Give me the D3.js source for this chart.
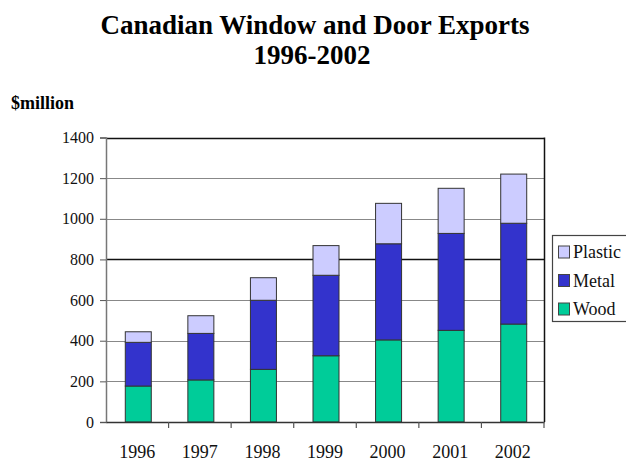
<!DOCTYPE html>
<html><head><meta charset="utf-8">
<script src="https://cdn.jsdelivr.net/npm/d3@7"></script>
<style>body{margin:0;background:#fff;}svg{display:block;}</style>
</head><body>
<script>
const years = ["1996","1997","1998","1999","2000","2001","2002"];
const wood = [177, 207, 259, 326, 404, 451, 482];
const metal = [215, 229, 340, 396, 473, 477, 496];
const plastic = [52, 87, 111, 146, 199, 222, 242];
const seriesNames = ["Wood","Metal","Plastic"];
const seriesColors = {"Wood":"#00CC99","Metal":"#3333CC","Plastic":"#CCCCFF"};
const yTicks = [0,200,400,600,800,1000,1200,1400];

const W = 626, H = 464;
const svg = d3.select("body").append("svg").attr("width", W).attr("height", H);
const serif = "'Liberation Serif','Times New Roman',serif";

const m = {left:106, right:544, top:137.5, bottom:422};
const x = d3.scaleBand().domain(years).range([m.left, m.right]).paddingInner(0).paddingOuter(0);
const y = d3.scaleLinear().domain([0,1400]).range([m.bottom, m.top]);

const table = years.map((yr,i)=>({year:yr, Wood:wood[i], Metal:metal[i], Plastic:plastic[i]}));
const stacked = d3.stack().keys(seriesNames)(table);

// title
svg.append("text").attr("x", 315).attr("y", 34).attr("text-anchor","middle")
  .attr("font-family", serif).attr("font-weight","bold").attr("font-size", 27)
  .text("Canadian Window and Door Exports");
svg.append("text").attr("x", 312).attr("y", 64).attr("text-anchor","middle")
  .attr("font-family", serif).attr("font-weight","bold").attr("font-size", 27)
  .text("1996-2002");
svg.append("text").attr("x", 11).attr("y", 109)
  .attr("font-family", serif).attr("font-weight","bold").attr("font-size", 18)
  .text("$million");

// gridlines
svg.append("g").selectAll("line").data(yTicks.filter(d=>d>0)).join("line")
  .attr("x1", m.left).attr("x2", m.right)
  .attr("y1", d=>Math.round(y(d))+0.5).attr("y2", d=>Math.round(y(d))+0.5)
  .attr("stroke", d=> (d===800||d===1400) ? "#111" : "#888")
  .attr("stroke-width", d=> (d===800||d===1400) ? 1.5 : 1.2);

// right border
svg.append("line").attr("x1", m.right+0.5).attr("x2", m.right+0.5)
  .attr("y1", y(1400)).attr("y2", m.bottom).attr("stroke","#111").attr("stroke-width",1.5);

// bars
const barW = 26;
svg.append("g").selectAll("g").data(stacked).join("g")
  .attr("fill", d=>seriesColors[d.key])
  .selectAll("rect").data(d=>d).join("rect")
  .attr("x", d=> x(d.data.year) + x.bandwidth()/2 - barW/2 + 1)
  .attr("width", barW)
  .attr("y", d=> y(d[1]))
  .attr("height", d=> y(d[0]) - y(d[1]))
  .attr("stroke", "#333").attr("stroke-width", 1);

// y axis
const yAxis = d3.axisLeft(y).tickValues(yTicks).tickSize(6).tickPadding(6).tickFormat(d3.format("d"));
const gy = svg.append("g").attr("transform", `translate(${m.left},0)`).call(yAxis);
gy.select(".domain").attr("stroke","#777").attr("stroke-width",1.5);
gy.selectAll(".tick line").attr("stroke","#555");
gy.selectAll(".tick text").attr("font-family", serif).attr("font-size", 16).attr("fill","#111");

// x axis
const xAxis = d3.axisBottom(x).tickSize(0).tickPadding(23);
const gx = svg.append("g").attr("transform", `translate(0,${m.bottom})`).call(xAxis);
gx.select(".domain").attr("stroke","#333").attr("stroke-width",1.5);
gx.selectAll(".tick text").attr("font-family", serif).attr("font-size", 18).attr("fill","#111");
// category separator ticks
svg.append("g").selectAll("line").data(years.slice(1).concat(["end"])).join("line")
  .attr("x1", d=> d==="end" ? m.right : x(d)).attr("x2", d=> d==="end" ? m.right : x(d))
  .attr("y1", m.bottom).attr("y2", m.bottom+6).attr("stroke","#555").attr("stroke-width",1.2);

// legend
const lg = svg.append("g");
lg.append("rect").attr("x", 552.5).attr("y", 235.5).attr("width", 90).attr("height", 86)
  .attr("fill","#fff").attr("stroke","#444").attr("stroke-width",1.2);
const legendItems = ["Plastic","Metal","Wood"];
const ly = d3.scalePoint().domain(legendItems).range([252, 309]);
legendItems.forEach(k=>{
  lg.append("rect").attr("x", 558.5).attr("y", ly(k)-6).attr("width", 11).attr("height", 12)
    .attr("fill", seriesColors[k]).attr("stroke","#444").attr("stroke-width",1);
  lg.append("text").attr("x", 573).attr("y", ly(k)+6)
    .attr("font-family", serif).attr("font-size", 18).attr("fill","#111").text(k);
});
</script>
</body></html>
